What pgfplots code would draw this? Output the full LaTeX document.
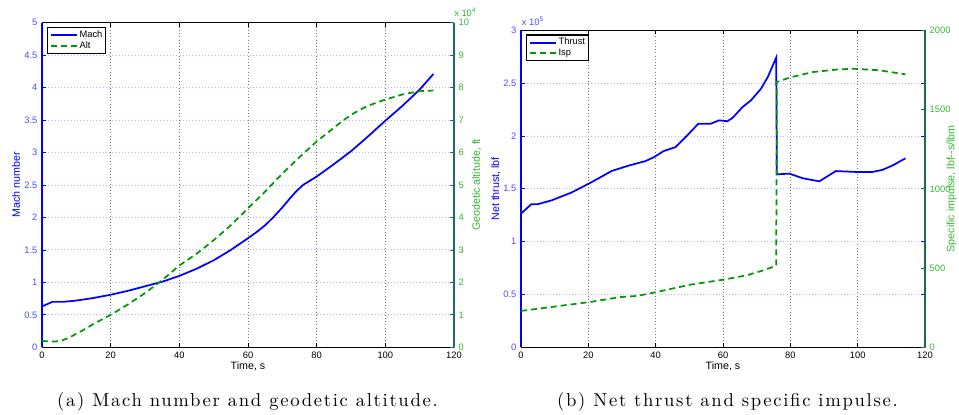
\documentclass[border=0pt]{standalone}
\usepackage{pgfplots}
\pgfplotsset{compat=1.18}
\usepackage{fontspec}
\newfontfamily\arial{Liberation Sans}
\newfontfamily\capfont{lmroman10-regular.otf}[LetterSpace=9]
\definecolor{mblue}{rgb}{0,0,1}
\definecolor{tickblue}{rgb}{0.3,0.3,1}
\definecolor{mgreen}{rgb}{0,0.6,0}
\definecolor{tgreen}{rgb}{0.2,0.72,0.2}
\definecolor{tealA}{rgb}{0.12,0.42,0.42}
\definecolor{tealB}{rgb}{0.1,0.42,0.25}
\definecolor{gridblue}{rgb}{0.7,0.7,1}
\definecolor{gridgray}{rgb}{0.45,0.45,0.45}
\pgfplotsset{
  base/.style={scale only axis, xmin=0, xmax=120, anchor=south west,
    /pgf/number format/assume math mode=true,
    /pgf/number format/1000 sep={},
    scaled y ticks=false,
    tick label style={font=\arial\fontsize{7}{8}\selectfont},
    label style={font=\arial\fontsize{8}{9}\selectfont},
    tick align=inside, major tick length=3pt,
    legend style={font=\arial\fontsize{7}{8}\selectfont, draw=black, line width=0.9pt,
      at={(0,1)}, anchor=north west, xshift=3.75pt, yshift=-3pt,
      inner xsep=1.5pt, inner ysep=1.4pt, row sep=-0.3pt,
      nodes={inner sep=1pt}},
    legend cell align=left,
    legend image code/.code={\draw[#1, line width=1.5pt] (0pt,0pt) -- (20pt,0pt);},
  },
  leftax/.style={base, separate axis lines,
    x axis line style={black, line width=0.6pt},
    y axis line style={mblue, line width=1.5pt},
    xtick={0,20,40,60,80,100,120},
    xtick style={black, line width=0.4pt},
    ytick style={mblue, line width=0.6pt},
    yticklabel style={tickblue},
    xmajorgrids, ymajorgrids,
    x grid style={gridgray, dotted, line width=0.45pt},
    y grid style={gridblue, dotted, line width=0.7pt},
    xlabel={Time, s},
    xlabel style={at={(axis description cs:0.5,0)}, anchor=center, yshift=-14.5pt},
    ylabel style={mblue, anchor=center},
  },
  rightax/.style={base, axis x line=none, axis y line*=right, xtick=\empty,
    yticklabel style={tgreen},
    ylabel style={tgreen, anchor=center},
  },
  sol/.style={mblue, line width=1.3pt},
  das/.style={mgreen, line width=1.3pt, dash pattern=on 4.5pt off 3pt},
}
\begin{document}
\begin{tikzpicture}
\useasboundingbox (-31.5pt,-50pt) rectangle (687.75pt,260.5pt);
% ---------------- (a) ----------------
\begin{axis}[leftax, name=a1, at={(0pt,0pt)}, width=309pt, height=243.5pt,
  ymin=0, ymax=5, ytick={0,0.5,1,1.5,2,2.5,3,3.5,4,4.5,5},
  ylabel={Mach number}, ylabel style={at={(axis description cs:-0.063,0.5)}}]
\addplot[sol] coordinates {(0,0.63) (3,0.70) (6,0.70) (10,0.72) (15,0.76) (20,0.81)
 (25,0.87) (30,0.94) (35,1.01) (40,1.10) (45,1.21) (50,1.34) (55,1.50) (60,1.68)
 (62.5,1.775) (65,1.88) (67.5,2.01) (70,2.155) (72,2.28) (74,2.40) (76,2.50)
 (80,2.63) (85,2.82) (90,3.02) (95,3.25) (100,3.49) (105,3.72) (110,3.97) (114,4.21)};
\end{axis}
\begin{axis}[rightax, at={(0pt,0pt)}, width=309pt, height=243.5pt,
  ymin=0, ymax=10, ytick={0,1,2,3,4,5,6,7,8,9,10},
  y axis line style={tealA, line width=1.5pt},
  ytick style={tealA, line width=0.6pt},
  ylabel={Geodetic altitude, ft}, ylabel style={at={(axis description cs:1.055,0.5)}}]
\addlegendimage{sol}\addlegendentry{Mach}
\addplot[das] coordinates {(0,0.20) (2,0.18) (4,0.18) (6,0.22) (8,0.30) (10,0.42)
 (12,0.53) (15,0.72) (20,1.00) (25,1.32) (30,1.67) (35,2.07) (40,2.52) (45,2.88)
 (50,3.30) (55,3.76) (60,4.28) (65,4.80) (70,5.35) (75,5.86) (80,6.34) (85,6.76)
 (87.5,6.97) (90,7.16) (92.5,7.31) (95,7.44) (97.5,7.54) (100,7.63) (105,7.79)
 (110,7.89) (114,7.91)};
\addlegendentry{Alt}
\end{axis}
\node[anchor=south west, inner sep=0pt, text=tgreen, font=\arial\fontsize{7}{8}\selectfont]
  at ([yshift=4pt]a1.north east) {x 10\textsuperscript{4}};
% ---------------- (b) ----------------
\begin{axis}[leftax, name=b1, at={(359.25pt,0pt)}, width=303pt, height=237.75pt,
  ymin=0, ymax=3, ytick={0,0.5,1,1.5,2,2.5,3},
  ylabel={Net thrust, lbf}, ylabel style={at={(axis description cs:-0.062,0.5)}}]
\addplot[sol] coordinates {(0,1.265) (3,1.353) (5,1.355) (9,1.39) (15,1.465)
 (20.5,1.555) (27,1.67) (32,1.72) (37,1.763) (39.5,1.80) (42.4,1.858) (45.9,1.895)
 (48.9,1.99) (52.7,2.117) (56.4,2.117) (58.8,2.148) (61.3,2.14) (62.8,2.17)
 (65.8,2.274) (68.3,2.337) (71.3,2.448) (73.3,2.558) (75.8,2.742) (76.0,1.637)
 (79.7,1.644) (83.7,1.60) (88.6,1.571) (93.5,1.668) (99.4,1.66) (104.4,1.66)
 (107.4,1.68) (110.4,1.722) (114.2,1.789)};
\end{axis}
\begin{axis}[rightax, at={(359.25pt,0pt)}, width=303pt, height=237.75pt,
  ymin=0, ymax=2000, ytick={0,500,1000,1500,2000},
  y axis line style={tealB, line width=1.5pt},
  ytick style={tealB, line width=0.6pt},
  ylabel={Specific impulse, lbf--s/lbm}, ylabel style={at={(axis description cs:1.066,0.5)}}]
\addlegendimage{sol}\addlegendentry{Thrust}
\addplot[das] coordinates {(0,230) (5,243) (10.6,259) (20.5,286) (29.4,317)
 (34.4,324) (40.3,349) (50.2,395) (60.1,427) (67,454) (72,486) (75.8,515)
 (76.0,1674) (79.8,1702) (86.7,1737) (93.6,1752) (98.5,1758) (106.4,1748) (114.2,1722)};
\addlegendentry{Isp}
\end{axis}
\node[anchor=south west, inner sep=0pt, text=tickblue, font=\arial\fontsize{7}{8}\selectfont]
  at ([yshift=3pt, xshift=0.5pt]b1.north west) {x 10\textsuperscript{5}};
% captions
\node[font=\capfont\fontsize{14}{16}\selectfont] at (154.1pt,-40.8pt)
  {(a) Mach number and geodetic altitude.};
\node[font=\capfont\fontsize{14}{16}\selectfont] at (514.1pt,-40.8pt)
  {(b) Net thrust and specific impulse.};
\end{tikzpicture}
\end{document}
